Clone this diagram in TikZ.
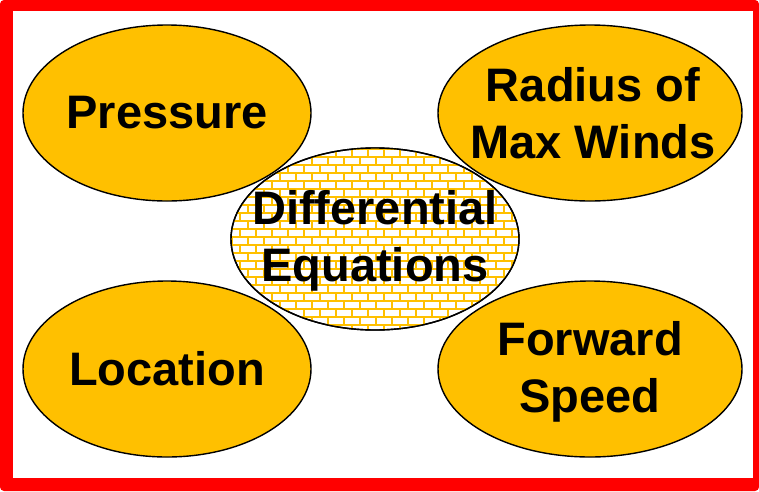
\documentclass[tikz,border=0pt]{standalone}
\usepackage{fontspec}
\setmainfont{Liberation Sans}
\usetikzlibrary{shapes.geometric}
\definecolor{gold}{HTML}{FFC000}

\begin{document}
\begin{tikzpicture}[
    x=1pt, y=-1pt,
    blob/.style={ellipse, draw, line width=1.4pt, fill=gold, inner sep=0pt,
                 minimum height=176pt},
    hub/.style={ellipse, draw, line width=1.4pt, fill=white, inner sep=0pt,
                minimum width=288pt, minimum height=182pt},
    caption/.style={align=center, inner sep=0pt,
                    font=\fontsize{47}{57}\selectfont\bfseries},
    brick/.style={gold, line width=1.4pt},
  ]
  \useasboundingbox (0,0) rectangle (759,491);
  % red frame
  \fill[red, rounded corners=4pt] (0,0) rectangle (759,491);
  \fill[white] (13,11) rectangle (753,478);

  % four outer ellipses
  \node[blob, minimum width=288pt] (press) at (167,113) {};
  \node[blob, minimum width=304pt] (rmw)   at (590,113) {};
  \node[blob, minimum width=288pt] (loc)   at (167,369) {};
  \node[blob, minimum width=304pt] (fwd)   at (590,369) {};

  % centre ellipse with brick fill
  \node[hub] (diffeq) at (375,239) {};
  \begin{scope}
    \clip (375,239) ellipse [x radius=144, y radius=91];
    \foreach \k in {0,...,25} {
      \pgfmathsetmacro\yy{141+8*\k}
      \pgfmathsetmacro\off{mod(\k,2)*8}
      \draw[brick] (220,\yy) -- (530,\yy);
      \foreach \i in {0,...,19}
        \draw[brick] (216+\off+16*\i,\yy) -- ++(0,8);
    }
  \end{scope}
  \draw[line width=1.4pt] (375,239) ellipse [x radius=144, y radius=91];

  % labels
  \node[caption] (pressT) at (press) {Pressure};
  \node[caption] (rmwT)   at (593,113) {Radius of\\Max Winds};
  \node[caption] (locT)   at (loc) {Location};
  \node[caption] (fwdT)   at (590,372) {Forward\\Speed};
  \node[caption] (diffT)  at (375,241) {Differential\\Equations};
\end{tikzpicture}
\end{document}
